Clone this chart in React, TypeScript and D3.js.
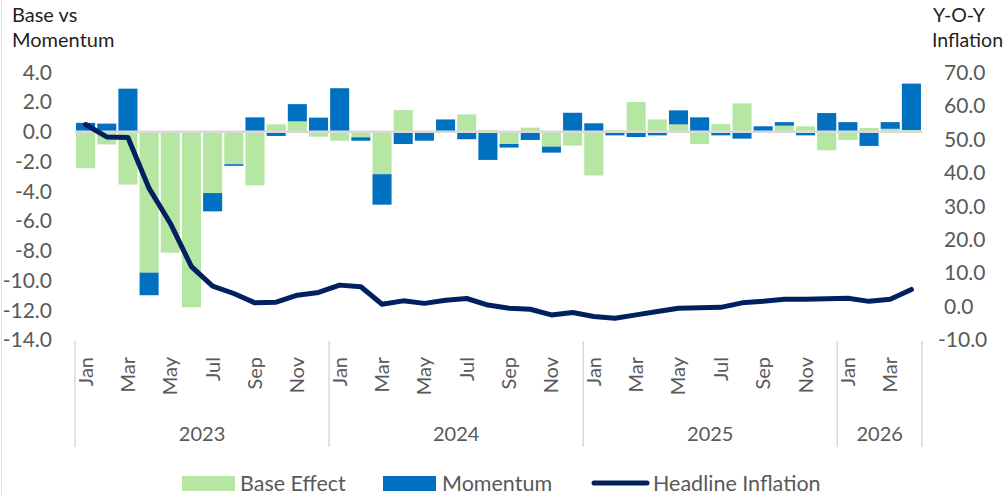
import React from 'react';
import * as d3 from 'd3';

// months Jan 2023 .. Apr 2026
const monthNames = ['Jan', 'Feb', 'Mar', 'Apr', 'May', 'Jun', 'Jul', 'Aug', 'Sep', 'Oct', 'Nov', 'Dec'];
const years = ['2023', '2024', '2025', '2026'];
const monthsPerYear = [12, 12, 12, 4];

const baseEffect = [
  -2.45, -0.85, -3.55, -9.47, -8.13, -11.8, -4.12, -2.18, -3.6, 0.5, 0.7, -0.33,
  -0.6, -0.37, -2.85, 1.46, 0, 0, 1.17, 0.12, -0.82, 0.28, -1.0, -0.93,
  -2.94, 0.12, 2.0, 0.83, 0.5, -0.82, 0.52, 1.91, 0, 0.41, 0.37, -1.24,
  -0.55, 0.25, 0.2, 0.12,
];
const momentum = [
  0.6, 0.55, 2.9, -1.52, 0, 0, -1.23, -0.11, 0.97, -0.28, 1.16, 0.95,
  2.93, -0.23, -2.05, -0.82, -0.6, 0.83, -0.5, -1.89, -0.24, -0.55, -0.4, 1.28,
  0.57, -0.24, -0.35, -0.24, 0.94, 0.97, -0.24, -0.46, 0.37, 0.24, -0.24, 1.26,
  0.65, -0.95, 0.45, 3.12,
];
const headline = [
  54.4, 50.7, 50.5, 35.3, 24.9, 11.9, 6.1, 3.9, 1.1, 1.3, 3.4, 4.2,
  6.4, 5.9, 0.7, 1.7, 0.95, 1.9, 2.4, 0.45, -0.5, -0.8, -2.5, -1.8,
  -3.0, -3.5, -2.5, -1.5, -0.5, -0.35, -0.25, 1.1, 1.55, 2.2, 2.2, 2.3,
  2.5, 1.55, 2.2, 5.1,
];
const leftTicks = [4, 2, 0, -2, -4, -6, -8, -10, -12, -14];
const rightTicks = [70, 60, 50, 40, 30, 20, 10, 0, -10];

const GREEN = '#B5E6A2';
const BLUE = '#0070C0';
const NAVY = '#002060';
const FONT = 'Lato, "Open Sans", sans-serif';

type Row = { key: string; base: number; momentum: number };

const App = () => {
  const W = 1004;
  const H = 495;
  const x0 = 75;
  const x1 = 922;
  const yTop = 72.3;
  const yBot = 340;

  const rows: Row[] = [];
  years.forEach((yr, yi) => {
    for (let m = 0; m < monthsPerYear[yi]; m++) {
      const i = rows.length;
      rows.push({ key: `${yr}-${monthNames[m]}`, base: baseEffect[i], momentum: momentum[i] });
    }
  });

  const x = d3.scaleBand<string>().domain(rows.map((r) => r.key)).range([x0, x1]).paddingInner(0.1).paddingOuter(0.05);
  const step = x.step();
  const center = (k: string) => (x(k) as number) + x.bandwidth() / 2;
  const yL = d3.scaleLinear().domain([-14, 4]).range([yBot, yTop]);
  const yR = d3.scaleLinear().domain([-10, 70]).range([yBot, yTop]);

  const series = d3
    .stack<Row>()
    .keys(['base', 'momentum'])
    .offset(d3.stackOffsetDiverging)(rows);
  const colors = [GREEN, BLUE];

  const line = d3
    .line<number>()
    .x((_, i) => center(rows[i].key))
    .y((d) => yR(d));

  // year group boundaries
  const bounds: number[] = [x0];
  let acc = 0;
  monthsPerYear.forEach((n) => {
    acc += n;
    bounds.push(x0 + acc * step);
  });

  return (
    <svg width={W} height={H} style={{ position: 'absolute', left: 0, top: 0, background: '#fff' }} fontFamily={FONT}>
      <line x1={1.5} x2={1.5} y1={0} y2={H} stroke="#E3E3E3" strokeWidth={1} />

      {/* titles */}
      <text x={12} y={22} fontSize={20} fill="#1f1f1f">Base vs</text>
      <text x={12} y={46.5} fontSize={20} fill="#1f1f1f">Momentum</text>
      <text x={933} y={22} fontSize={19.5} fill="#1f1f1f">Y-O-Y</text>
      <text x={932} y={46.5} fontSize={19.5} fill="#1f1f1f">Inflation</text>

      {/* left axis labels */}
      {leftTicks.map((t) => (
        <text key={'l' + t} x={52} y={yL(t)} dy="0.35em" textAnchor="end" fontSize={21} fill="#595959">
          {t.toFixed(1)}
        </text>
      ))}
      {/* right axis labels */}
      {rightTicks.map((t) => (
        <text key={'r' + t} x={t < 0 ? 938 : 944} y={yR(t)} dy="0.35em" textAnchor="start" fontSize={21} fill="#595959">
          {t.toFixed(1)}
        </text>
      ))}

      {/* bars */}
      {series.map((s, si) => (
        <g key={s.key} fill={colors[si]}>
          {s.map((d, i) =>
            d[1] - d[0] === 0 ? null : (
              <rect
                key={i}
                x={x(rows[i].key)}
                y={yL(Math.max(d[0], d[1]))}
                width={x.bandwidth()}
                height={Math.abs(yL(d[0]) - yL(d[1]))}
              />
            )
          )}
        </g>
      ))}

      {/* zero line */}
      <line x1={x0} x2={x1} y1={yL(0)} y2={yL(0)} stroke="#D9D9D9" strokeWidth={2.5} />

      {/* headline inflation */}
      <path d={line(headline) || ''} fill="none" stroke={NAVY} strokeWidth={5} strokeLinejoin="round" strokeLinecap="round" />

      {/* category axis */}
      {bounds.map((b, i) => (
        <line key={'b' + i} x1={b} x2={b} y1={341} y2={447} stroke="#D9D9D9" strokeWidth={1.5} />
      ))}
      {rows.map((r, i) =>
        i % 12 % 2 === 0 ? (
          <text
            key={'m' + r.key}
            transform={`translate(${center(r.key)},357) rotate(-90)`}
            dy="0.35em"
            textAnchor="end"
            fontSize={20}
            fill="#595959"
          >
            {r.key.split('-')[1]}
          </text>
        ) : null
      )}
      {years.map((yr, i) => (
        <text key={'y' + yr} x={(bounds[i] + bounds[i + 1]) / 2} y={441} textAnchor="middle" fontSize={20} fill="#595959">
          {yr}
        </text>
      ))}

      {/* legend */}
      <rect x={182} y={476} width={53} height={15} fill={GREEN} />
      <text x={240} y={490.5} fontSize={21.5} fill="#595959">Base Effect</text>
      <rect x={383} y={476} width={53} height={15} fill={BLUE} />
      <text x={442} y={490.5} fontSize={21.5} fill="#595959">Momentum</text>
      <line x1={594} x2={647} y1={483} y2={483} stroke={NAVY} strokeWidth={5} strokeLinecap="round" />
      <text x={653} y={490.5} fontSize={21.5} fill="#595959">Headline Inflation</text>
    </svg>
  );
};

export default App;
